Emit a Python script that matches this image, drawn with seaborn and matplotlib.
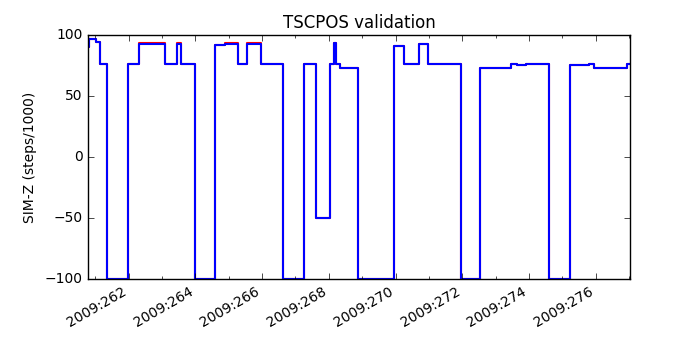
import matplotlib
matplotlib.use("Agg")
import matplotlib.pyplot as plt
import seaborn as sns
import pandas as pd
from matplotlib.ticker import MultipleLocator, FuncFormatter

# Blue (telemetry) step series: day-of-year 2009 and SIM-Z (steps/1000)
blue_day = [260.78, 260.81, 261.03, 261.13, 261.34, 261.98, 262.31, 263.08, 263.45, 263.58,
            264.00, 264.58, 264.90, 265.28, 265.55, 265.98, 266.63, 267.26, 267.63, 268.03,
            268.16, 268.21, 268.35, 268.88, 269.95, 270.26, 270.71, 270.98, 271.96, 272.54,
            273.45, 273.63, 273.90, 274.61, 275.23, 275.81, 275.95, 276.95, 277.03]
blue_val = [90, 97, 94, 76, -100, 76, 93, 76, 93, 76,
            -100, 91.5, 93, 76, 93, 76, -100, 76, -50, 76,
            93.5, 76, 73, -100, 91, 76, 93, 76, -100, 73,
            76, 75, 76, -100, 75, 76, 73, 76, 76]

# Red (model) step series
red_day = [260.78, 260.81, 261.03, 261.13, 261.335, 261.98, 262.305, 263.08, 263.445, 263.58,
           263.995, 264.58, 264.90, 265.28, 265.545, 265.98, 266.62, 267.26, 267.625, 268.03,
           268.16, 268.21, 268.35, 268.875, 269.95, 270.26, 270.705, 270.98, 271.955, 272.54,
           273.45, 273.63, 273.90, 274.60, 275.23, 275.81, 275.95, 276.95, 277.03]
red_val = [90, 97, 94, 76, -100, 76, 93.2, 76, 93.2, 76,
           -100, 91.5, 93.2, 76, 93.2, 76, -100, 76, -50, 76,
           93.5, 76, 73, -100, 91, 76, 93, 76, -100, 73,
           76, 75, 76.2, -100, 75, 76, 73, 76, 76]

title = "TSCPOS validation"
ylabel = "SIM-Z (steps/1000)"
year = 2009

plt.style.use("classic")
fig = plt.figure(figsize=(7, 3.5), dpi=100, facecolor="white")
ax = fig.add_axes([0.1257, 0.203, 0.7743, 0.697])
ax.set_facecolor("white")

red_df = pd.DataFrame({"day": red_day, "val": red_val})
blue_df = pd.DataFrame({"day": blue_day, "val": blue_val})
sns.lineplot(data=red_df, x="day", y="val", ax=ax, color="r", lw=1.5,
             drawstyle="steps-post", sort=False, estimator=None)
sns.lineplot(data=blue_df, x="day", y="val", ax=ax, color="b", lw=1.5,
             drawstyle="steps-post", sort=False, estimator=None)

ax.set_xlim(blue_day[0], blue_day[-1])
ax.set_ylim(-100, 100)
ax.yaxis.set_major_locator(MultipleLocator(50))
ax.xaxis.set_major_locator(MultipleLocator(2))
ax.xaxis.set_minor_locator(MultipleLocator(1))
ax.xaxis.set_major_formatter(FuncFormatter(lambda v, p: f"{year}:{int(round(v)):03d}"))
ax.tick_params(axis="both", which="major", labelsize=10, direction="in", top=True, right=True, length=4)
ax.tick_params(axis="x", which="minor", direction="in", top=True, length=2)
for lab in ax.get_xticklabels():
    lab.set_rotation(30)
    lab.set_ha("right")
ax.set_xlabel("")
ax.set_ylabel(ylabel, fontsize=10)
ax.set_title(title, fontsize=12)

fig.savefig("out.png", dpi=100, facecolor="white")
